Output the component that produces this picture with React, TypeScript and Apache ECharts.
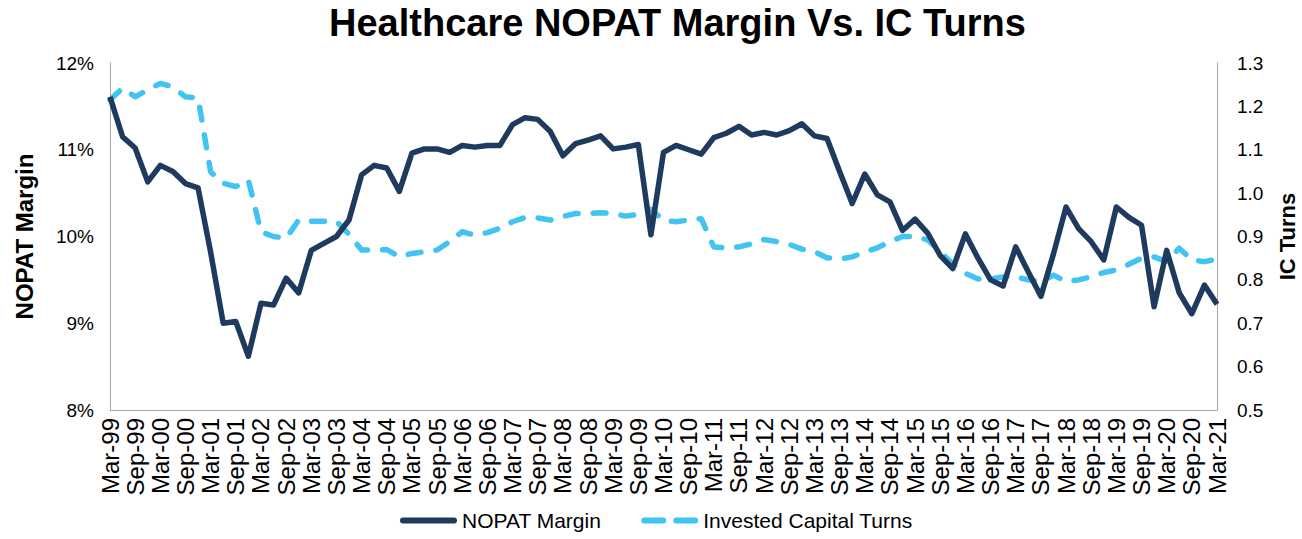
import React, { useEffect, useRef } from "react";
import * as echarts from "echarts";

const categories: string[] = [
  "Mar-99","Jun-99","Sep-99","Dec-99","Mar-00","Jun-00","Sep-00","Dec-00",
  "Mar-01","Jun-01","Sep-01","Dec-01","Mar-02","Jun-02","Sep-02","Dec-02",
  "Mar-03","Jun-03","Sep-03","Dec-03","Mar-04","Jun-04","Sep-04","Dec-04",
  "Mar-05","Jun-05","Sep-05","Dec-05","Mar-06","Jun-06","Sep-06","Dec-06",
  "Mar-07","Jun-07","Sep-07","Dec-07","Mar-08","Jun-08","Sep-08","Dec-08",
  "Mar-09","Jun-09","Sep-09","Dec-09","Mar-10","Jun-10","Sep-10","Dec-10",
  "Mar-11","Jun-11","Sep-11","Dec-11","Mar-12","Jun-12","Sep-12","Dec-12",
  "Mar-13","Jun-13","Sep-13","Dec-13","Mar-14","Jun-14","Sep-14","Dec-14",
  "Mar-15","Jun-15","Sep-15","Dec-15","Mar-16","Jun-16","Sep-16","Dec-16",
  "Mar-17","Jun-17","Sep-17","Dec-17","Mar-18","Jun-18","Sep-18","Dec-18",
  "Mar-19","Jun-19","Sep-19","Dec-19","Mar-20","Jun-20","Sep-20","Dec-20",
  "Mar-21",
];

const nopatMargin: number[] = [
  11.61, 11.15, 11.02, 10.63, 10.82, 10.75, 10.61, 10.56,
  9.82, 9.0, 9.02, 8.62, 9.23, 9.21, 9.52, 9.35,
  9.84, 9.92, 10.0, 10.19, 10.71, 10.82, 10.79, 10.52,
  10.96, 11.01, 11.01, 10.97, 11.05, 11.03, 11.05, 11.05,
  11.29, 11.37, 11.35, 11.21, 10.93, 11.07, 11.11, 11.16,
  11.01, 11.03, 11.06, 10.02, 10.97, 11.05, 11.0, 10.95,
  11.14, 11.19, 11.27, 11.17, 11.2, 11.17, 11.22, 11.3,
  11.16, 11.13, 10.75, 10.38, 10.72, 10.48, 10.4, 10.07,
  10.2, 10.04, 9.78, 9.63, 10.03, 9.75, 9.5, 9.43,
  9.88, 9.59, 9.31, 9.8, 10.34, 10.09, 9.94, 9.73,
  10.34, 10.22, 10.13, 9.19, 9.84, 9.35, 9.11, 9.44,
  9.22,
];

const icTurns: number[] = [
  1.215, 1.242, 1.222, 1.238, 1.253, 1.245, 1.222, 1.219,
  1.049, 1.023, 1.015, 1.03, 0.911, 0.9, 0.896, 0.938,
  0.935, 0.935, 0.935, 0.905, 0.869, 0.869, 0.87, 0.853,
  0.861, 0.865, 0.869, 0.888, 0.911, 0.903, 0.909, 0.919,
  0.934, 0.944, 0.943, 0.938, 0.946, 0.953, 0.953, 0.955,
  0.953, 0.947, 0.951, 0.963, 0.937, 0.934, 0.938, 0.941,
  0.876, 0.874, 0.876, 0.883, 0.893, 0.888, 0.882, 0.871,
  0.865, 0.851, 0.848, 0.853, 0.864, 0.874, 0.888, 0.9,
  0.9, 0.892, 0.865, 0.836, 0.815, 0.802, 0.802, 0.807,
  0.807, 0.8, 0.796, 0.811, 0.796, 0.8, 0.807, 0.817,
  0.823, 0.836, 0.85, 0.853, 0.842, 0.873, 0.846, 0.842,
  0.848,
];

const FONT = "'Liberation Sans', Arial, sans-serif";
const DARK = "#1F3A5F";
const LIGHT = "#41C4F2";

const SOLID_ICON = "path://M3,0 H54 A3,3 0 0 1 54,6 H3 A3,3 0 0 1 3,0 Z";
const DASH_ICON =
  "path://M3,0 H22 A3,3 0 0 1 22,6 H3 A3,3 0 0 1 3,0 Z M35,0 H54 A3,3 0 0 1 54,6 H35 A3,3 0 0 1 35,0 Z";

export default function App() {
  const ref = useRef<HTMLDivElement>(null);
  useEffect(() => {
    document.body.style.margin = "0";
    if (!ref.current) return;
    const chart = echarts.init(ref.current, undefined, { renderer: "svg" });
    chart.setOption({
      animation: false,
      backgroundColor: "#ffffff",
      textStyle: { fontFamily: FONT },
      title: {
        text: "Healthcare NOPAT Margin Vs. IC Turns",
        left: 324,
        top: -1,
        textStyle: { fontFamily: FONT, fontSize: 38, fontWeight: "bold", color: "#000" },
      },
      legend: {
        bottom: 3,
        left: 395,
        itemWidth: 57,
        itemHeight: 6,
        itemGap: 40,
        textStyle: { fontFamily: FONT, fontSize: 21, color: "#000", padding: [0, 0, 0, 0] },
        data: [
          { name: "NOPAT Margin", icon: SOLID_ICON, itemStyle: { color: DARK } },
          { name: "Invested Capital Turns", icon: DASH_ICON, itemStyle: { color: LIGHT } },
        ],
      },
      grid: {
        left: 110,
        right: 85,
        top: 63,
        bottom: 129,
        containLabel: false,
        outerBoundsMode: "none",
      },
      xAxis: {
        type: "category",
        data: categories,
        boundaryGap: false,
        axisLine: { show: true, lineStyle: { color: "#A6A6A6", width: 1 } },
        axisTick: { show: false },
        axisLabel: {
          interval: 1,
          rotate: 90,
          fontFamily: FONT,
          fontSize: 24,
          color: "#000",
          margin: 8,
        },
        splitLine: { show: false },
      },
      yAxis: [
        {
          type: "value",
          min: 8,
          max: 12,
          interval: 1,
          name: "NOPAT Margin",
          nameLocation: "middle",
          nameGap: 74,
          nameRotate: 90,
          nameTextStyle: { fontFamily: FONT, fontSize: 24, fontWeight: "bold", color: "#000" },
          axisLine: { show: true, lineStyle: { color: "#A6A6A6", width: 1 } },
          axisTick: { show: false },
          splitLine: { show: false },
          axisLabel: {
            formatter: (v: number) => `${Math.round(v)}%`,
            fontFamily: FONT,
            fontSize: 19,
            color: "#000",
            margin: 16,
          },
        },
        {
          type: "value",
          min: 0.5,
          max: 1.3,
          interval: 0.1,
          position: "right",
          name: "IC Turns",
          nameLocation: "middle",
          nameGap: 59,
          nameRotate: 90,
          nameTextStyle: {
            fontFamily: FONT,
            fontSize: 22,
            lineHeight: 22,
            fontWeight: "bold",
            color: "#000",
          },
          axisLine: { show: true, lineStyle: { color: "#A6A6A6", width: 1 } },
          axisTick: { show: false },
          splitLine: { show: false },
          axisLabel: {
            formatter: (v: number) => v.toFixed(1),
            fontFamily: FONT,
            fontSize: 19,
            color: "#000",
            margin: 20,
          },
        },
      ],
      series: [
        {
          name: "NOPAT Margin",
          type: "line",
          yAxisIndex: 0,
          data: nopatMargin,
          showSymbol: false,
          symbol: "none",
          color: DARK,
          lineStyle: { color: DARK, width: 5.5, join: "round" },
          z: 3,
        },
        {
          name: "Invested Capital Turns",
          type: "line",
          yAxisIndex: 1,
          data: icTurns,
          showSymbol: false,
          symbol: "none",
          color: LIGHT,
          lineStyle: { color: LIGHT, width: 5.5, type: [13, 15], cap: "round", join: "round" },
          z: 2,
        },
      ],
    });
    return () => chart.dispose();
  }, []);
  return <div ref={ref} style={{ width: 1302, height: 539 }} />;
}
